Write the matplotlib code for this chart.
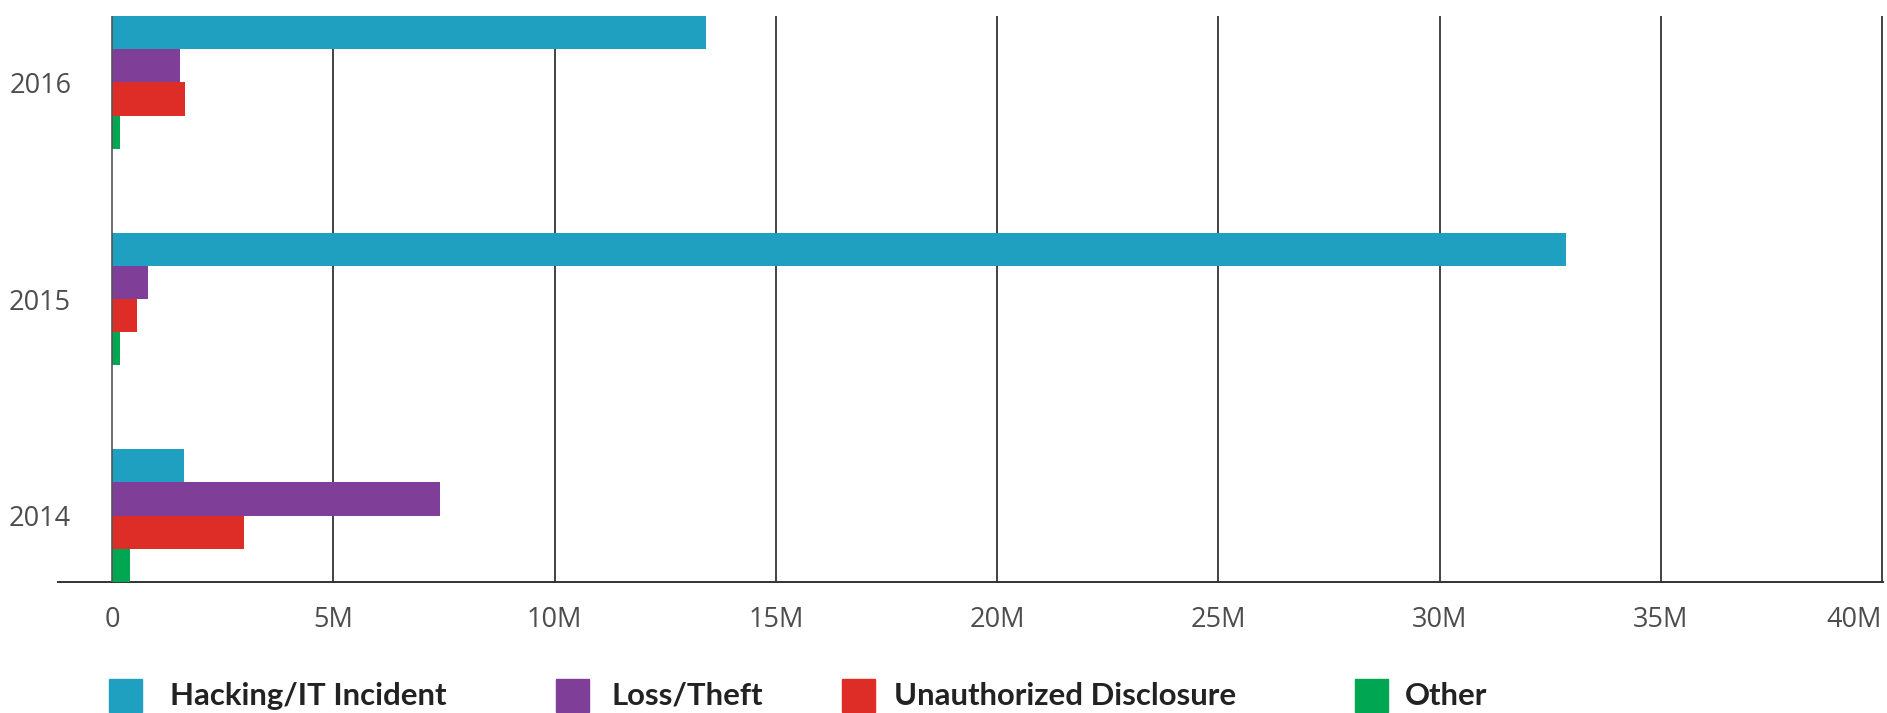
import matplotlib.pyplot as plt
import matplotlib.patches as mpatches
import numpy as np

# Data (values in millions)
years = ['2014', '2015', '2016']
hacking = [1.63, 32.86, 13.42]
loss_theft = [7.42, 0.81, 1.54]
unauthorized = [2.98, 0.56, 1.65]
other = [0.41, 0.18, 0.18]

series_names = ['Hacking/IT Incident', 'Loss/Theft', 'Unauthorized Disclosure', 'Other']
colors = ['#1FA0C0', '#7F3F98', '#DE2D26', '#00A651']
xticks = [0, 5, 10, 15, 20, 25, 30, 35, 40]
xtick_labels = ['0', '5M', '10M', '15M', '20M', '25M', '30M', '35M', '40M']

fig = plt.figure(figsize=(18.87, 7.13), dpi=100)
ax = fig.add_axes([58 / 1887, 131 / 713, 1825 / 1887, 566 / 713])

y = np.arange(len(years))
h = 0.1535
all_series = [hacking, loss_theft, unauthorized, other]
offsets = [1.5 * h, 0.5 * h, -0.5 * h, -1.5 * h]
for vals, off, c in zip(all_series, offsets, colors):
    ax.barh(y + off, np.array(vals) * 1e6, height=h, color=c, left=0, zorder=3)

# vertical gridlines
for t in xticks:
    lc = '#555555' if t == 0 else '#222222'
    ax.axvline(t * 1e6, color=lc, lw=1.2, zorder=2 if t else 4)

ax.set_xlim(-1.22e6, 40.02e6)
ax.set_ylim(-2 * h, 2 + 2 * h)

for s in ['top', 'right', 'left']:
    ax.spines[s].set_visible(False)
ax.spines['bottom'].set_color('#333333')
ax.spines['bottom'].set_linewidth(1.4)

ax.set_xticks([t * 1e6 for t in xticks])
ax.set_xticklabels(xtick_labels, fontfamily='Open Sans', fontsize=19.5, color='#4d4d4d')
ax.xaxis.get_ticklabels()[-1].set_horizontalalignment('right')
ax.tick_params(axis='x', length=0, pad=17)

ax.set_yticks(y)
ax.set_yticklabels(years, fontfamily='Open Sans', fontsize=19.5, color='#4d4d4d')
ax.tick_params(axis='y', length=0, pad=-9.5)

# legend row
sq_x = [109, 556, 842, 1355]
txt_x = [170, 612, 894, 1405]
for name, c, sx, tx in zip(series_names, colors, sq_x, txt_x):
    fig.add_artist(mpatches.Rectangle((sx / 1887, 1 / 713), 33 / 1887, 33 / 713,
                                      transform=fig.transFigure, color=c))
    fig.text(tx / 1887, 17 / 713, name, fontfamily='Lato', fontweight='bold',
             fontsize=22.4, color='#222222', va='center', ha='left')

fig.savefig('out.png', dpi=100)
